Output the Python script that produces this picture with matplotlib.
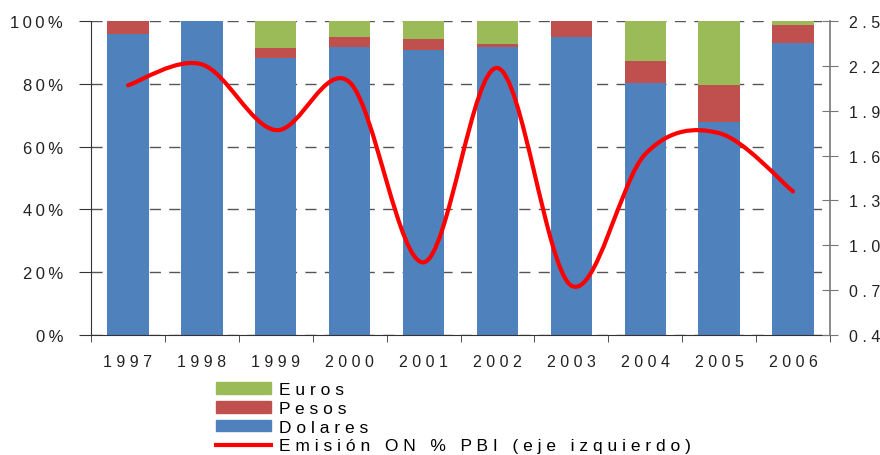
import numpy as np
import matplotlib
matplotlib.use("Agg")
import matplotlib.pyplot as plt
from matplotlib.path import Path
from matplotlib.patches import PathPatch, Patch
from matplotlib.lines import Line2D

plt.rcParams['font.family'] = ['Liberation Sans', 'DejaVu Sans']

years = ['1997', '1998', '1999', '2000', '2001', '2002', '2003', '2004', '2005', '2006']
dolares = [95.9, 100.0, 88.2, 91.8, 90.8, 91.8, 95.0, 80.4, 67.7, 93.1]
pesos = [4.1, 0.0, 3.2, 3.2, 3.5, 1.0, 5.0, 7.0, 12.0, 5.7]
euros = [0.0, 0.0, 8.6, 5.0, 5.7, 7.2, 0.0, 12.6, 20.3, 1.2]
emision = [2.07, 2.21, 1.77, 2.09, 0.886, 2.186, 0.73, 1.61, 1.75, 1.36]

c_dol = '#4F81BD'
c_pes = '#C0504D'
c_eur = '#9BBB59'
c_line = '#FF0000'


def spaced(s, sep=' '):
    # wide letter spacing like the original chart
    return sep.join(s)


def smooth_path(x, y):
    # Excel-like smoothed line: cubic Bezier through the points
    pts = np.column_stack([x, y]).astype(float)
    n = len(pts)
    verts = [pts[0]]
    codes = [Path.MOVETO]
    for i in range(n - 1):
        p0 = pts[i - 1] if i > 0 else pts[i]
        p1 = pts[i]
        p2 = pts[i + 1]
        p3 = pts[i + 2] if i + 2 < n else pts[i + 1]
        c1 = p1 + (p2 - p0) / 6.0
        c2 = p2 - (p3 - p1) / 6.0
        verts += [c1, c2, p2]
        codes += [Path.CURVE4] * 3
    return Path(verts, codes)


fig = plt.figure(figsize=(8.8, 4.56), dpi=100)
ax = fig.add_axes([91 / 880, 1 - 336 / 456, 739 / 880, 314 / 456])

x = np.arange(len(years))
w = 0.56
d = np.array(dolares)
p = np.array(pesos)
e = np.array(euros)
ax.bar(x, d, w, color=c_dol, zorder=2)
ax.bar(x, p, w, bottom=d, color=c_pes, zorder=2)
ax.bar(x, e, w, bottom=d + p, color=c_eur, zorder=2)

ax.set_xlim(-0.5, len(years) - 0.5)
ax.set_ylim(0, 100)
ax.set_yticks(np.arange(0, 101, 20))
ax.set_yticklabels([spaced(f'{v}%', '\u2009') for v in range(0, 101, 20)],
                   fontsize=12, color='#222222')
ax.set_xticks(x)
ax.set_xticklabels([spaced(y) for y in years], fontsize=11.5, color='#222222')
ax.set_xticks(np.arange(-0.5, len(years), 1.0), minor=True)
ax.tick_params(axis='x', which='major', length=0, pad=14)
ax.tick_params(axis='x', which='minor', length=5, direction='out', color='#333333')
ax.tick_params(axis='y', length=9, direction='out', pad=11, color='#333333')

ax.yaxis.grid(True, linestyle=(0, (8, 6)), color='#555555', linewidth=1)
ax.set_axisbelow(True)
for s in ['top', 'right']:
    ax.spines[s].set_visible(False)
ax.spines['left'].set_color('#333333')
ax.spines['bottom'].set_color('#333333')

ax2 = ax.twinx()
ax2.set_ylim(0.4, 2.5)
rt = np.round(np.arange(0.4, 2.51, 0.3), 1)
ax2.set_yticks(rt)
ax2.set_yticklabels([spaced(f'{v:.1f}') for v in rt], fontsize=11.5, color='#222222')
ax2.tick_params(axis='y', length=12, direction='inout', pad=8, color='#777777')
for s in ['top', 'left', 'bottom']:
    ax2.spines[s].set_visible(False)
ax2.spines['right'].set_color('#777777')
ax2.spines['right'].set_linewidth(1.2)

path = smooth_path(x, emision)
ax2.add_patch(PathPatch(path, facecolor='none', edgecolor=c_line, linewidth=3,
                        capstyle='round', joinstyle='round', zorder=3))

handles = [Patch(color=c_eur), Patch(color=c_pes), Patch(color=c_dol),
           Line2D([], [], color=c_line, linewidth=3)]
labels = [spaced('Euros'), spaced('Pesos'), spaced('Dolares'),
          spaced('Emisión ON % PBI (eje izquierdo)')]
fig.legend(handles, labels, loc='upper left', bbox_to_anchor=(216 / 880, 1 - 383 / 456),
           frameon=False, fontsize=12.5, handlelength=3.15, handleheight=0.65,
           handletextpad=0.5, labelspacing=0.22, borderpad=0, borderaxespad=0)

fig.savefig('out.png', dpi=100)
